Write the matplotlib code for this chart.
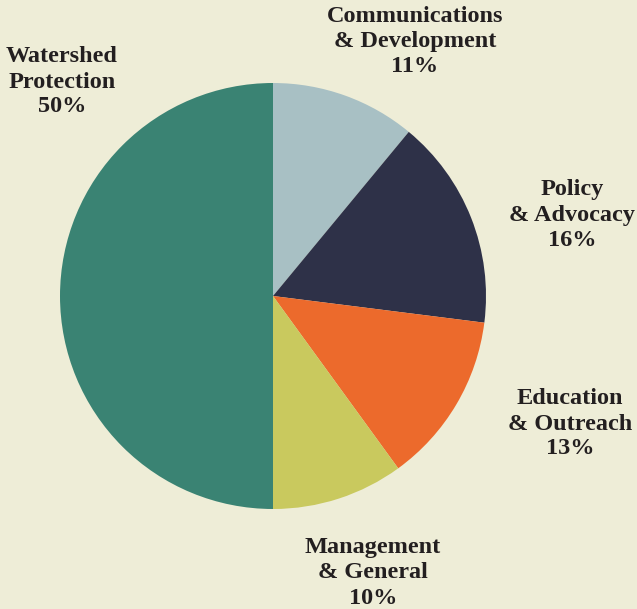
import matplotlib
matplotlib.use("Agg")
import matplotlib.pyplot as plt

categories = ["Communications\n& Development", "Policy\n& Advocacy", "Education\n& Outreach",
              "Management\n& General", "Watershed\nProtection"]
values = [11, 16, 13, 10, 50]
colors = ["#A8C0C4", "#2E3148", "#EC6A2C", "#C9C95E", "#3A8373"]
bg = "#EEEDD7"

W, H = 637, 609
fig = plt.figure(figsize=(W / 100, H / 100), dpi=100, facecolor=bg)
ax = fig.add_axes([0, 0, 1, 1])
ax.set_facecolor(bg)

cx, cy, r = 273, H - 296, 213
ax.pie(values, colors=colors, startangle=90, counterclock=False,
       center=(cx, cy), radius=r, frame=True,
       wedgeprops=dict(linewidth=0))
ax.set_xlim(0, W)
ax.set_ylim(0, H)
ax.set_aspect("equal")
ax.axis("off")

label_pos = [(415, 42), (572, 215), (570, 424), (373, 573), (62, 82)]
for cat, v, (px, py) in zip(categories, values, label_pos):
    ax.text(px, H - py, f"{cat}\n{v}%", ha="center", va="center",
            fontsize=17.5, fontweight="bold", family="Liberation Serif",
            color="#231F20", linespacing=1.25)

fig.savefig("out.png", dpi=100, facecolor=bg)
